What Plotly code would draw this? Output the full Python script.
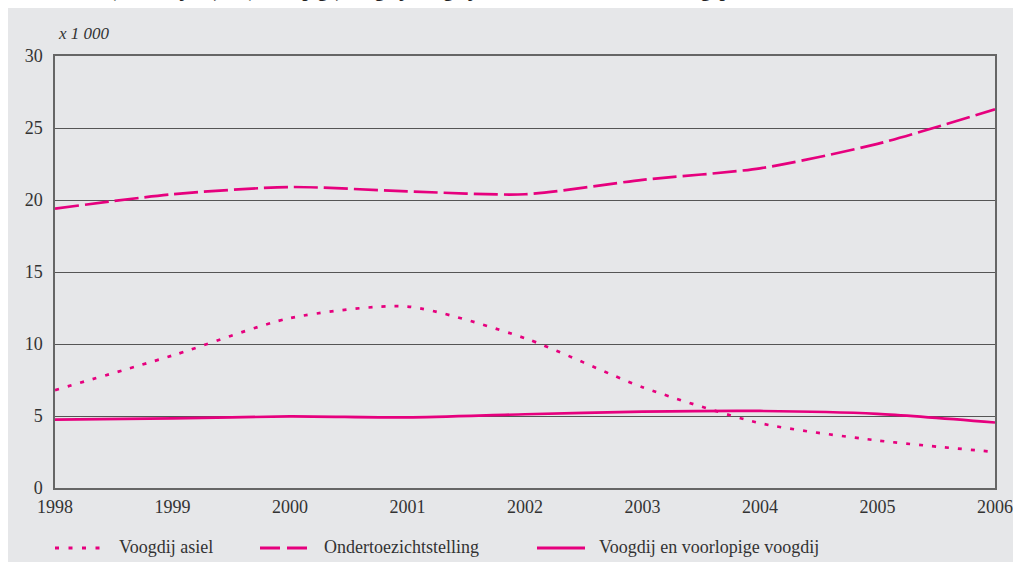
import plotly.graph_objects as go

years = [1998, 1999, 2000, 2001, 2002, 2003, 2004, 2005, 2006]
voogdij_asiel = [6.8, 9.2, 11.8, 12.6, 10.4, 7.0, 4.5, 3.3, 2.5]
ondertoezichtstelling = [19.4, 20.4, 20.9, 20.6, 20.4, 21.4, 22.2, 23.9, 26.3]
voogdij_voorlopig = [4.75, 4.83, 4.97, 4.9, 5.12, 5.3, 5.35, 5.15, 4.55]

names = ["Voogdij asiel", "Ondertoezichtstelling", "Voogdij en voorlopige voogdij"]
series = [voogdij_asiel, ondertoezichtstelling, voogdij_voorlopig]

title = "7.3 Kinderen (0 tot 23 jaar) in (voorlopige) voogdij, voogdij asiel en ondertoezichtstelling, per 31 december"
unit = "x 1 000"

COLOR = "#e6007e"
FONT = "Liberation Serif, DejaVu Serif, serif"
TXT = "#333333"
PANEL = "#e6e7e9"

line_dashes = ["4px,9px", "24px,6px", "solid"]
legend_dashes = ["4px,9.5px", "20px,7px", "solid"]

W, H = 1013, 562
L, R, T, B = 55, 18, 56, 74
pw, ph = W - L - R, H - T - B


def px(x):  # page x -> paper
    return (x - L) / pw


def py(y):  # page y -> paper
    return (H - B - y) / ph


fig = go.Figure()
for name, dash, vals in zip(names, line_dashes, series):
    fig.add_trace(go.Scatter(
        x=years, y=vals, name=name, mode="lines", showlegend=False,
        line=dict(color=COLOR, width=2.7, dash=dash, shape="spline", smoothing=0.7),
    ))

# grey panel
fig.add_shape(type="rect", xref="paper", yref="paper",
              x0=px(8), x1=px(1030), y0=py(8), y1=py(580),
              fillcolor=PANEL, line=dict(width=0), layer="below")

fig.add_annotation(text="<i>" + unit + "</i>", xref="paper", yref="paper", x=px(56), y=py(33),
                   xanchor="left", yanchor="middle", showarrow=False,
                   font=dict(family=FONT, size=17, color=TXT))
fig.add_annotation(text="<b>" + title + "</b>", xref="paper", yref="paper", x=px(-1), y=py(-8.5),
                   xanchor="left", yanchor="middle", showarrow=False,
                   font=dict(family=FONT, size=18.8, color="#222222"))

# legend drawn manually
leg_sample_x = [(55, 100), (260, 307), (537, 585)]
leg_text_x = [117, 322, 597]
leg_y = 548
for name, dash, (a, b), tx in zip(names, legend_dashes, leg_sample_x, leg_text_x):
    fig.add_shape(type="line", xref="paper", yref="paper",
                  x0=px(a), x1=px(b), y0=py(leg_y), y1=py(leg_y),
                  line=dict(color=COLOR, width=3, dash=dash))
    fig.add_annotation(text=name, xref="paper", yref="paper", x=px(tx), y=py(leg_y - 1),
                       xanchor="left", yanchor="middle", showarrow=False,
                       font=dict(family=FONT, size=18, color=TXT))

fig.update_layout(
    width=W, height=H,
    margin=dict(l=L, r=R, t=T, b=B, autoexpand=False),
    paper_bgcolor="white",
    plot_bgcolor="white",
    font=dict(family=FONT, size=18, color=TXT),
    showlegend=False,
    xaxis=dict(range=[1998, 2006], tickmode="array", tickvals=years,
               ticktext=[str(y) for y in years], showgrid=False,
               showline=True, linecolor="#666666", linewidth=1.5, mirror=True,
               ticks="", ticklabelstandoff=2, ticklabeloverflow="allow", zeroline=False),
    yaxis=dict(range=[0, 30], tickvals=[0, 5, 10, 15, 20, 25, 30],
               showgrid=True, gridcolor="#555555", gridwidth=1,
               showline=True, linecolor="#666666", linewidth=1.5, mirror=True,
               ticks="", ticklabelstandoff=7, zeroline=False),
)

fig.write_html("out.html",
               config={"displayModeBar": False},
               post_script="document.body.style.margin='0';document.body.style.overflow='hidden';")
